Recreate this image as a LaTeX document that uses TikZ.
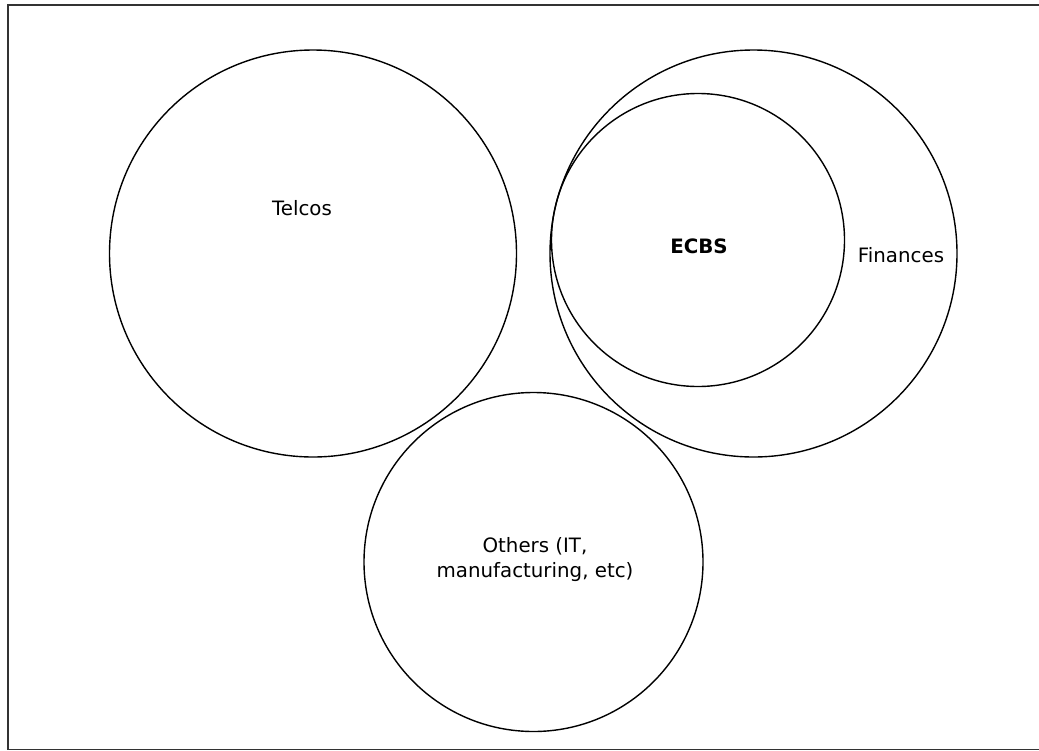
\documentclass[tikz,border=0pt]{standalone}
\usepackage{fontspec}
\setmainfont{DejaVu Sans}
\begin{document}
\begin{tikzpicture}[x=1pt,y=-1pt,line cap=round]
    \tikzset{sector/.style={line width=1.4pt},
             lbl/.style={font=\fontsize{19.8}{25}\selectfont, align=center, inner sep=0pt}}
    \useasboundingbox (0,0) rectangle (1039,750);
    % frame round the whole sketch
    \draw[line width=1.8pt, black!80] (8,5) rectangle (1045,749.5);
    % the market sectors
    \draw[sector] (313,253.5) circle[radius=203.5];
    \draw (302,208) node[lbl] (telcos) {Telcos};
    \draw[sector] (753.5,253.5) circle[radius=203.5];
    \draw (901,255) node[lbl] (fin) {Finances};
    \draw[sector] (698,240) circle[radius=146.5];
    \draw (699,246.5) node[lbl, font=\fontsize{19.8}{25}\selectfont\bfseries] (ecbs) {ECBS};
    \draw[sector] (533.5,562) circle[radius=169.5];
    \draw (535,560) node[lbl] (others) {Others (IT,\\manufacturing, etc)};
\end{tikzpicture}
\end{document}
